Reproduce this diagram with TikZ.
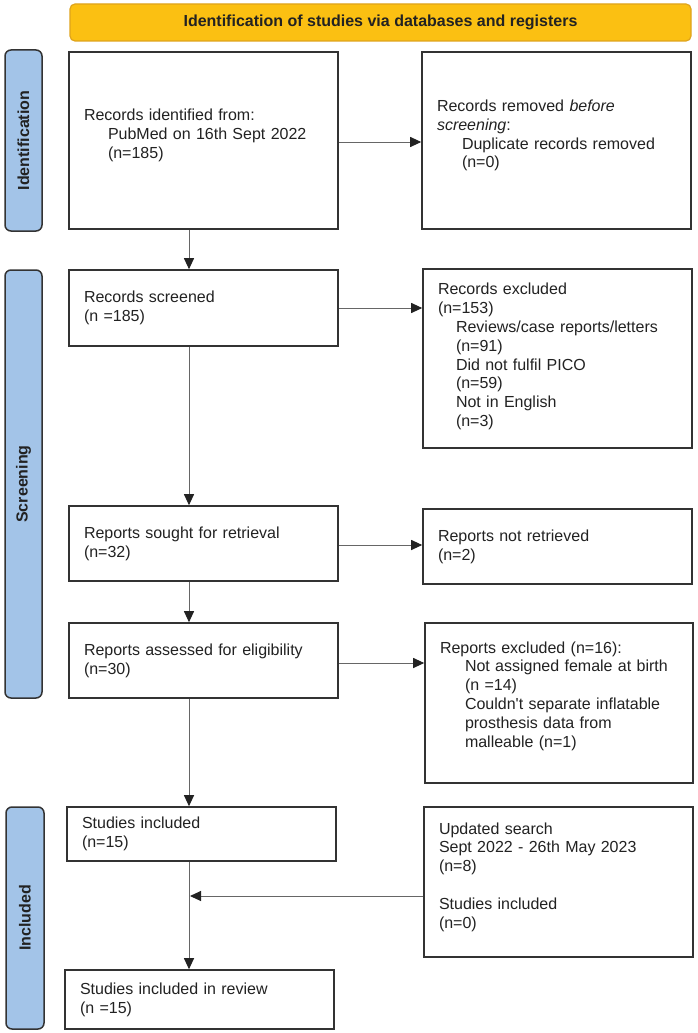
\documentclass[tikz,border=0pt]{standalone}
\usepackage{fontspec}
\setmainfont{Liberation Sans}
\usetikzlibrary{arrows.meta}
\definecolor{gold}{HTML}{FBC012}
\definecolor{goldline}{HTML}{DFA41C}
\definecolor{barblue}{HTML}{A3C4E8}
\definecolor{boxline}{HTML}{333333}
\definecolor{txt}{HTML}{222222}
\definecolor{arrline}{HTML}{666666}
\tikzset{
  box/.style={draw=boxline, line width=1.6pt, rectangle, fill=white,
    inner xsep=15pt, inner ysep=0pt, text width=239pt, minimum width=269pt,
    align=left, text=txt, font=\fontsize{16}{18.8}\selectfont},
  sidebar/.style={draw=boxline, line width=1.5pt, fill=barblue, rounded corners=6pt,
    minimum width=37pt, inner sep=0pt, text=txt, font=\bfseries\fontsize{16}{19}\selectfont},
  header/.style={draw=goldline, line width=1.2pt, fill=gold, rounded corners=5pt,
    minimum width=621pt, minimum height=37pt, inner sep=0pt, text=txt,
    font=\bfseries\fontsize{16}{19}\selectfont},
  arr/.style={draw=arrline, line width=1pt, -{Triangle[length=11pt,width=10pt,color=txt]}},
}
\newcommand{\ind}[1]{\hspace*{#1pt}}
\newcommand{\lift}[1]{\par\vspace*{#1pt}}
\begin{document}
\begin{tikzpicture}[x=1pt,y=-1pt]
\useasboundingbox (0,0) rectangle (697,1033);
\fill[white] (0,0) rectangle (697,1033);
\coordinate (cx) at (189,0);

\node[header] (hd) at (380.5,22.5) {Identification of studies via databases and registers};

\node[sidebar, minimum height=181pt] (sid) at (23.5,140.5) {};
\node[rotate=90, text=txt, font=\bfseries\fontsize{16}{19}\selectfont] (sidt) at (sid.center) {Identification};
\node[sidebar, minimum height=428pt] (sscr) at (23.5,484) {};
\node[rotate=90, text=txt, font=\bfseries\fontsize{16}{19}\selectfont] (sscrt) at (sscr.center) {Screening};
\node[sidebar, minimum width=38pt, minimum height=222pt] (sinc) at (25,918) {};
\node[rotate=90, text=txt, font=\bfseries\fontsize{16}{19}\selectfont] (sinct) at (sinc.center) {Included};

\node[box, minimum height=177pt] (b1) at (203.5,140.5) {Records identified from:\\\ind{24}PubMed on 16th Sept 2022\\\ind{24}(n=185)\lift{10}};
\node[box, minimum height=177pt] (b2) at (556.5,140.5) {Records removed \textit{before}\\\textit{screening}:\\\ind{25}Duplicate records removed\\\ind{25}(n=0)\lift{10}};

\node[box, minimum height=76pt] (b3) at (203.5,308) {Records screened\\(n =185)};
\node[box, minimum height=179pt] (b4) at (557.5,358.5) {Records excluded\\(n=153)\\\ind{18}Reviews/case reports/letters\\\ind{18}(n=91)\\\ind{18}Did not fulfil PICO\\\ind{18}(n=59)\\\ind{18}Not in English\\\ind{18}(n=3)\lift{4}};

\node[box, minimum height=75pt] (b5) at (203.5,543.5) {Reports sought for retrieval\\(n=32)};
\node[box, minimum height=75pt] (b6) at (557.5,546.5) {Reports not retrieved\\(n=2)};

\node[box, minimum height=75pt] (b7) at (203.5,660.5) {Reports assessed for eligibility\\(n=30)};
\node[box, minimum height=160pt, minimum width=268pt, text width=238pt] (b8) at (559,703) {Reports excluded (n=16):\\\ind{25}Not assigned female at birth\\\ind{25}(n =14)\\\ind{25}Couldn\textquotesingle t separate inflatable\\\ind{25}prosthesis data from\\\ind{25}malleable (n=1)\lift{14}};

\node[box, minimum height=54pt] (b9) at (201.5,834) {Studies included\\(n=15)};
\node[box, minimum height=150pt] (b10) at (558.5,882) {Updated search\\Sept 2022 - 26th May 2023\\(n=8)\\[18.8pt]Studies included\\(n=0)\lift{10}};

\node[box, minimum height=59pt] (b11) at (199.5,999.5) {Studies included in review\\(n =15)};

\draw[arr] (b1.east |- 0,142) -- (b2.west |- 0,142);
\draw[arr] (b1.south -| cx) -- (b3.north -| cx);
\draw[arr] (b3.east) -- (b3.east -| b4.west);
\draw[arr] (b3.south -| cx) -- (b5.north -| cx);
\draw[arr] (b5.east |- 0,545) -- (b6.west |- 0,545);
\draw[arr] (b5.south -| cx) -- (b7.north -| cx);
\draw[arr] (b7.east |- 0,663) -- (b8.west |- 0,663);
\draw[arr] (b7.south -| cx) -- (b9.north -| cx);
\draw[arr] (b9.south -| cx) -- (b11.north -| cx);
\coordinate (mid) at (189,896);
\draw[arr] (b10.west |- mid) -- ([xshift=1pt]mid);
\end{tikzpicture}
\end{document}
